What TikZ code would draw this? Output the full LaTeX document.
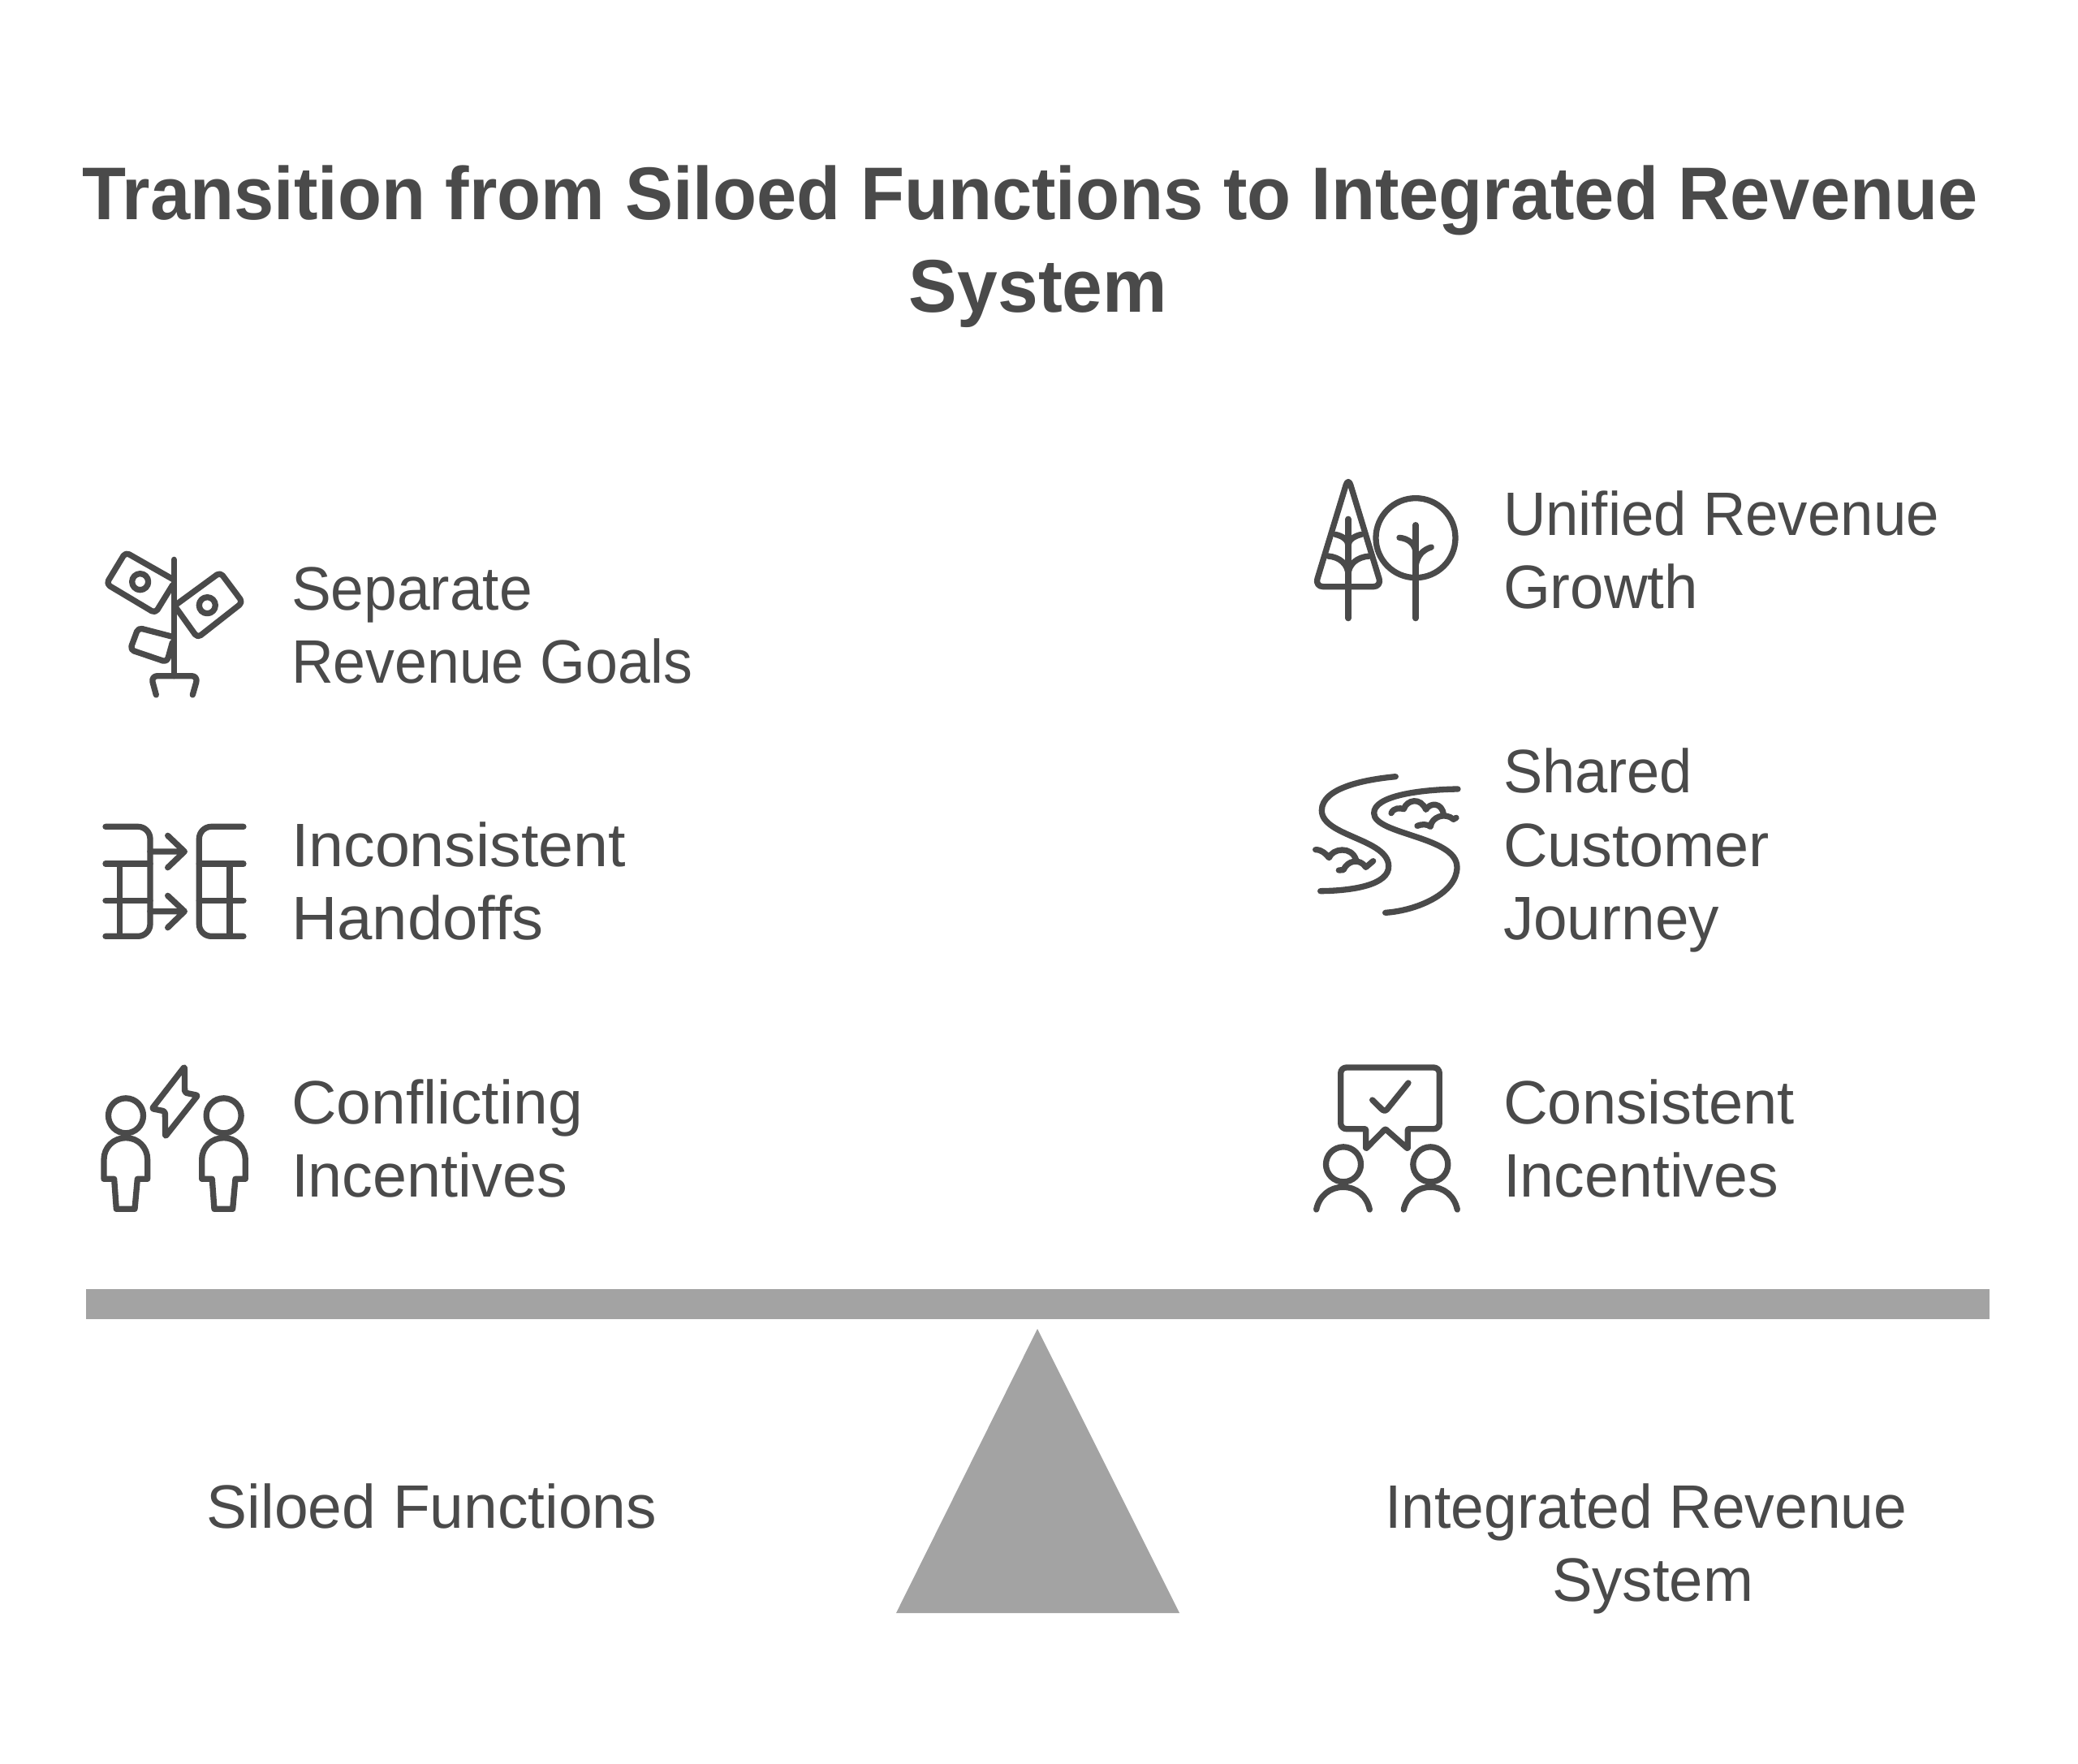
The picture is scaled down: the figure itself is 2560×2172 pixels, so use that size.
\documentclass[tikz,border=0pt]{standalone}
\usepackage{fontspec}
\usepackage{graphicx}
\newfontfamily\lblfont{Liberation Sans}
\newfontfamily\ttlfont{Liberation Sans Bold}
\newcommand{\fitw}[2]{\resizebox{#1pt}{\height}{#2}}
\definecolor{ink}{HTML}{4A4A4A}
\definecolor{beam}{HTML}{A3A3A3}
\tikzset{
  lbl/.style={inner sep=0pt,outer sep=0pt,text=ink,font=\lblfont\fontsize{75.6}{90.5}\selectfont},
  lbll/.style={lbl,align=left,anchor=base west},
  lblc/.style={lbl,align=center,anchor=base},
  ttl/.style={inner sep=0pt,outer sep=0pt,text=ink,align=center,anchor=base,font=\ttlfont\fontsize{92}{114}\selectfont},
  ico/.style={draw=ink,line width=7.3pt,line cap=round,line join=round},
  shp/.style={fill=beam,draw=none}
}
\begin{document}
\begin{tikzpicture}[x=1pt,y=-1pt]
\useasboundingbox (0,0) rectangle (2560,2172);
\fill[white] (0,0) rectangle (2560,2172);
\node[ttl] (title) at (1279,384) {\hspace*{-20pt}\fitw{2335}{Transition from Siloed Functions to Integrated Revenue}\\\fitw{318}{System}};
% beam and fulcrum
\fill[shp] (106,1588) rectangle (2451,1625);
\fill[shp] (1278,1637) -- (1453,1987) -- (1104,1987) -- cycle;
% labels
\node[lbll] (a) at (359,841.5) {\fitw{297}{Separate}\\\fitw{494}{Revenue Goals}};
\node[lbll] (b) at (359,1157.5) {\fitw{412}{Inconsistent}\\\fitw{311}{Handoffs}};
\node[lbll] (c) at (359,1474.5) {\fitw{359}{Conflicting}\\\fitw{340}{Incentives}};
\node[lbll] (d) at (1852,749.5) {\fitw{537}{Unified Revenue}\\\fitw{240}{Growth}};
\node[lbll] (e) at (1852,1157.5) {\fitw{233}{Shared}\\\fitw{328}{Customer}\\\fitw{266}{Journey}};
\node[lbll] (f) at (1852,1474.5) {\fitw{359}{Consistent}\\\fitw{339}{Incentives}};
\node[lblc] (g) at (532,1882.5) {\fitw{554}{Siloed Functions}};
\node[lblc] (h) at (2028,1972.5) {\fitw{643}{Integrated Revenue}\\\hspace*{16pt}\fitw{248}{System}};
% icon 1: money plant
\begin{scope}[shift={(100,650)},x=.3333pt,y=-.3333pt]
\draw[ico] (343,118) -- (343,548);
\draw[ico,rounded corners=8pt] (277,618) -- (258,548) -- (432,548) -- (412,618);
\draw[ico,rounded corners=5pt] (338,190) -- (164,91) -- (93,208) -- (274,316) -- (338,212);
\draw[ico] (218,200) circle[radius=10pt];
\draw[ico,rounded corners=5pt] (350,285) -- (514,165) -- (597,276) -- (430,407) -- (352,298);
\draw[ico] (466,287) circle[radius=10pt];
\draw[ico,rounded corners=5pt] (338,403) -- (211,370) -- (181,451) -- (317,497) -- (337,425);
\end{scope}
% icon 2: handoff
\begin{scope}[shift={(100,990)},x=.3333pt,y=-.3333pt]
\draw[ico,rounded corners=15pt] (90,85) -- (255,85) -- (255,490) -- (90,490);
\draw[ico] (90,222) -- (255,222) (90,358) -- (255,358) (143,222) -- (143,490);
\draw[ico] (255,177) -- (382,177) (320,118) -- (382,177) -- (320,236);
\draw[ico] (255,398) -- (382,398) (320,340) -- (382,398) -- (320,458);
\draw[ico,rounded corners=15pt] (600,85) -- (436,85) -- (436,490) -- (600,490);
\draw[ico] (436,222) -- (600,222) (436,358) -- (600,358) (549,222) -- (549,490);
\end{scope}
% icon 3: conflict
\begin{scope}[shift={(100,1290)},x=.3333pt,y=-.3333pt]
\foreach \dx in {0,362}{
\begin{scope}[xshift=\dx*.3333pt]
\draw[ico] (165,253) circle[radius=21.5pt];
\draw[ico] (84,487) -- (84,415) .. controls (84,370) and (120,335) .. (165,335) .. controls (210,335) and (245,370) .. (245,415) -- (245,487) -- (208,487) -- (198,598) -- (130,598) -- (122,487) -- cycle;
\end{scope}}
\draw[ico,rounded corners=2pt] (382,72) -- (262,227) -- (310,237) -- (311,330) -- (431,178) -- (383,168) -- cycle;
\end{scope}
% icon 4: trees
\begin{scope}[shift={(1600,580)},x=.3333pt,y=-.3333pt]
\draw[ico,rounded corners=10pt] (183,24) -- (60,428) -- (306,428) -- cycle;
\draw[ico] (183,178) -- (183,545);
\draw[ico] (135,235) .. controls (160,240) and (183,255) .. (183,275);
\draw[ico] (232,235) .. controls (207,240) and (183,255) .. (183,275);
\draw[ico] (108,315) .. controls (150,318) and (183,345) .. (183,385);
\draw[ico] (262,315) .. controls (216,318) and (183,345) .. (183,385);
\draw[ico] (432,248) circle[radius=49pt];
\draw[ico] (432,200) -- (432,545);
\draw[ico] (372,247) .. controls (405,250) and (432,270) .. (432,305);
\draw[ico] (490,282) .. controls (460,292) and (440,310) .. (432,350);
\end{scope}
% icon 5: river
\begin{scope}[shift={(1600,940)},x=.3333pt,y=-.3333pt]
\draw[ico] (358,50) .. controls (250,60) and (85,90) .. (85,175) .. controls (85,270) and (330,280) .. (332,380) .. controls (335,450) and (200,472) .. (80,473);
\draw[ico] (588,96) .. controls (450,98) and (278,120) .. (278,185) .. controls (278,265) and (585,270) .. (585,385) .. controls (585,480) and (440,545) .. (320,553);
\draw[ico] (342,185) .. controls (350,165) and (375,165) .. (388,170) .. controls (400,135) and (450,125) .. (470,172) .. controls (485,145) and (530,145) .. (535,190);
\draw[ico] (438,232) .. controls (455,225) and (475,225) .. (487,235) .. controls (490,200) and (540,180) .. (572,208) -- (582,202);
\draw[ico] (62,320) .. controls (85,320) and (100,335) .. (112,350) .. controls (125,315) and (195,305) .. (212,358);
\draw[ico] (148,396) -- (165,395) .. controls (180,360) and (225,350) .. (248,385) -- (275,362);
\end{scope}
% icon 6: consensus
\begin{scope}[shift={(1600,1300)},x=.3333pt,y=-.3333pt]
\draw[ico] (320,272) [rounded corners=1pt] -- (403,345) -- (403,272) [rounded corners=7pt] -- (520,272) -- (520,45) -- (155,45) -- (155,272) [rounded corners=1pt] -- (248,272) -- (248,345) -- cycle;
\draw[ico,rounded corners=4pt] (272,165) -- (318,210) -- (405,102);
\draw[ico] (165,403) circle[radius=21.5pt];
\draw[ico] (487,403) circle[radius=21.5pt];
\draw[ico] (65,570) .. controls (75,520) and (115,487) .. (163,487) .. controls (215,487) and (252,520) .. (262,570);
\draw[ico] (388,570) .. controls (398,520) and (438,487) .. (486,487) .. controls (538,487) and (575,520) .. (586,570);
\end{scope}
\end{tikzpicture}
\end{document}
